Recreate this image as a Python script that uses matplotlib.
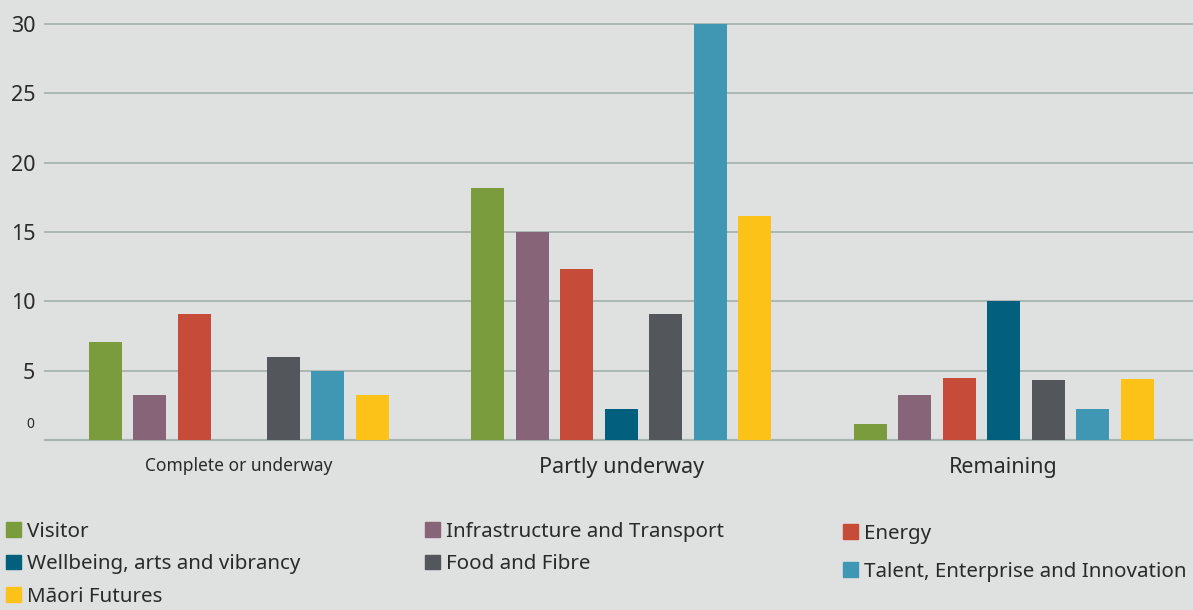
import matplotlib.pyplot as plt
from matplotlib.patches import Patch
import numpy as np

# data
stages = ["Complete or underway", "Partly underway", "Remaining"]
series = ["Visitor", "Infrastructure and Transport", "Energy",
          "Wellbeing, arts and vibrancy", "Food and Fibre",
          "Talent, Enterprise and Innovation", "Māori Futures"]
visitor = [7.05, 18.15, 1.15]
infrastructure = [3.25, 15.0, 3.25]
energy = [9.1, 12.3, 4.45]
wellbeing = [0, 2.25, 10.0]
food = [6.0, 9.1, 4.35]
talent = [4.95, 30.0, 2.25]
maori = [3.25, 16.15, 4.4]
yticks = [0, 5, 10, 15, 20, 25, 30]

values = [visitor, infrastructure, energy, wellbeing, food, talent, maori]
colors = ["#7a9c3c", "#876478", "#c64b38", "#025f7e", "#53565a", "#4097b4", "#fdc218"]

bg = "#dee1e0"
grid_col = "#a8b4b1"
txt = "#2a2a2a"
plt.rcParams['font.family'] = ['Noto Sans', 'DejaVu Sans']

fig = plt.figure(figsize=(11.93, 6.10), dpi=100, facecolor=bg)
ax = fig.add_axes([45/1193, 1-440/610, 1-45/1193, 416/610])
ax.set_facecolor(bg)

step = 0.1163
width = 0.0863
x = np.arange(len(stages))
for j, (vals, c) in enumerate(zip(values, colors)):
    ax.bar(x + (j-3)*step, vals, width=width, color=c, zorder=3)

ax.set_xlim(-0.506, 2.495)
ax.set_ylim(0, 30)
for s in ax.spines.values():
    s.set_visible(False)

for yv in yticks:
    ax.axhline(yv, color=grid_col, lw=1.6 if yv == 0 else 1.3, zorder=1, clip_on=False)

ax.set_yticks(yticks[1:])
ax.set_yticklabels([str(v) for v in yticks[1:]], fontsize=15.5, color=txt)
ax.tick_params(axis='y', length=0, pad=7)
ax.annotate("0", xy=(0, 0), xycoords=('axes fraction', 'data'), xytext=(-8, 11),
            textcoords='offset points', ha='right', va='center', fontsize=10, color=txt)

ax.set_xticks(x)
ax.set_xticklabels(stages, color=txt)
ax.tick_params(axis='x', length=0, pad=12)
for i, lab in enumerate(ax.get_xticklabels()):
    lab.set_fontsize(12.5 if i == 0 else 15.5)

# legend laid out in three columns like the reference
cols = [[0, 3, 6], [1, 4], [2, 5]]
col_x = [6/1193, 425/1193, 843/1193]
col_y = [1-522/610, 1-522/610, 1-524/610]
col_space = [0.6, 0.6, 0.86]
for idx, cx, cy, ls in zip(cols, col_x, col_y, col_space):
    handles = [Patch(color=colors[k], label=series[k]) for k in idx]
    leg = fig.legend(handles=handles, loc='upper left', bbox_to_anchor=(cx, cy),
                     frameon=False, fontsize=14.8, handlelength=0.72, handleheight=0.72,
                     handletextpad=0.3, labelspacing=ls, borderpad=0, borderaxespad=0)
    for t in leg.get_texts():
        t.set_color(txt)

fig.savefig("out.png", dpi=100, facecolor=bg)
